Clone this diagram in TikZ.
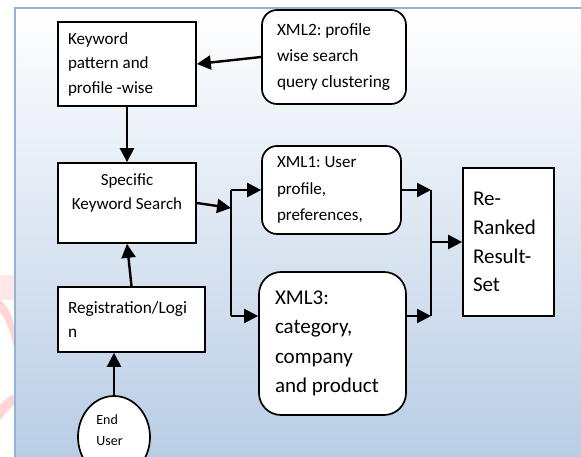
\documentclass[tikz,border=0pt]{standalone}
\usepackage{fontspec}
\setmainfont{Carlito}
\usetikzlibrary{arrows.meta,shapes.geometric}
\definecolor{bgblue}{RGB}{185,205,229}
\definecolor{edgeblue}{RGB}{149,179,215}
\definecolor{wmpink}{RGB}{255,232,232}
\definecolor{wmred}{RGB}{255,214,214}
\begin{document}
\frenchspacing
\begin{tikzpicture}[x=1pt,y=-1pt,
  box/.style={draw=black,line width=1.7pt,fill=white,inner ysep=0pt,align=flush left},
  rbox/.style={box,rounded corners=15pt},
  arr/.style={line width=2.4pt,-{Triangle[length=14pt,width=14pt]}},
  plain/.style={line width=2.4pt},
  txt/.style={inner sep=0pt}]
\useasboundingbox (0,0) rectangle (581,457);
\fill[white] (0,0) rectangle (581,457);
\fill[wmpink] (0,275) rectangle (15,300);
\fill[wmred] (0,300) .. controls (8,305) and (13,318) .. (15,330) -- (15,352) .. controls (12,338) and (6,318) .. (0,312) -- cycle;
\fill[wmred] (0,405) .. controls (6,398) and (11,395) .. (15,394) -- (15,404) .. controls (10,408) and (5,414) .. (0,420) -- cycle;
\shade[top color=white,bottom color=bgblue] (15,8) rectangle (581,457);
\draw[edgeblue,line width=2pt] (15,457) -- (15,8) -- (581,8);

\node[box,minimum width=138pt,minimum height=84pt,text width=118pt,inner xsep=10pt,
  font=\fontsize{17pt}{24.5pt}\selectfont] (kw) at (127,64) {Keyword\\pattern and\\profile -wise};
\node[rbox,minimum width=144pt,minimum height=94pt,text width=114pt,inner xsep=15pt,
  font=\fontsize{17.3pt}{26pt}\selectfont] (x2) at (334,57) {XML2: profile\\wise search\\\mbox{query clustering}};
\node[box,minimum width=138pt,minimum height=80pt] (sks) at (127,203) {};
\node[txt,align=center,font=\fontsize{17pt}{24.5pt}\selectfont] (skst) at (127,193) {Specific\\Keyword Search};
\node[rbox,minimum width=139pt,minimum height=88pt,text width=109pt,inner xsep=15pt,
  font=\fontsize{17pt}{26.5pt}\selectfont] (x1) at (331.5,190) {XML1: User\\profile,\\preferences,};
\node[rbox,rounded corners=22pt,minimum width=147pt,minimum height=143pt,text width=115pt,inner xsep=16pt,
  font=\fontsize{21pt}{29.5pt}\selectfont] (x3) at (332.5,343.5) {XML3:\\category,\\company\\and product};
\node[box,minimum width=91pt,minimum height=148pt,text width=71pt,inner xsep=10pt,
  font=\fontsize{21pt}{28.7pt}\selectfont] (rr) at (508.5,242) {Re-\\Ranked\\Result-\\Set};
\node[box,minimum width=147pt,minimum height=65pt,text width=127pt,inner xsep=10pt,
  font=\fontsize{17.3pt}{24pt}\selectfont] (reg) at (131.5,319.5) {Registration/Logi\\n};
\node[draw=black,line width=1.7pt,fill=white,ellipse,minimum width=72pt,minimum height=82pt,inner sep=0pt] (eu) at (114,437) {};
\node[txt,align=left,font=\fontsize{14pt}{21pt}\selectfont] (eut) at (109.5,430.5) {End\\User};

\coordinate (jm) at (231,208);
\coordinate (j1) at (231,190);
\coordinate (j2) at (231,316);
\coordinate (k1) at (431,190);
\coordinate (k2) at (431,316);
\coordinate (km) at (431,242);

\draw[arr] (x2.west) -- (kw.east);
\draw[arr] (kw.south) -- (sks.north);
\draw[arr] (reg.north) -- (sks.south);
\draw[arr] (eu.north) -- (eu.north |- reg.south);
\draw[arr] (sks.east) -- (jm);
\draw[plain] (j1) -- (j2);
\draw[arr] (j1) -- (x1.west);
\draw[arr] (j2) -- (x3.west |- j2);
\draw[arr] (x1.east) -- (k1);
\draw[arr] (x3.east |- k2) -- (k2);
\draw[plain] (k1) -- (k2);
\draw[arr] (km) -- (rr.west);
\end{tikzpicture}
\end{document}
